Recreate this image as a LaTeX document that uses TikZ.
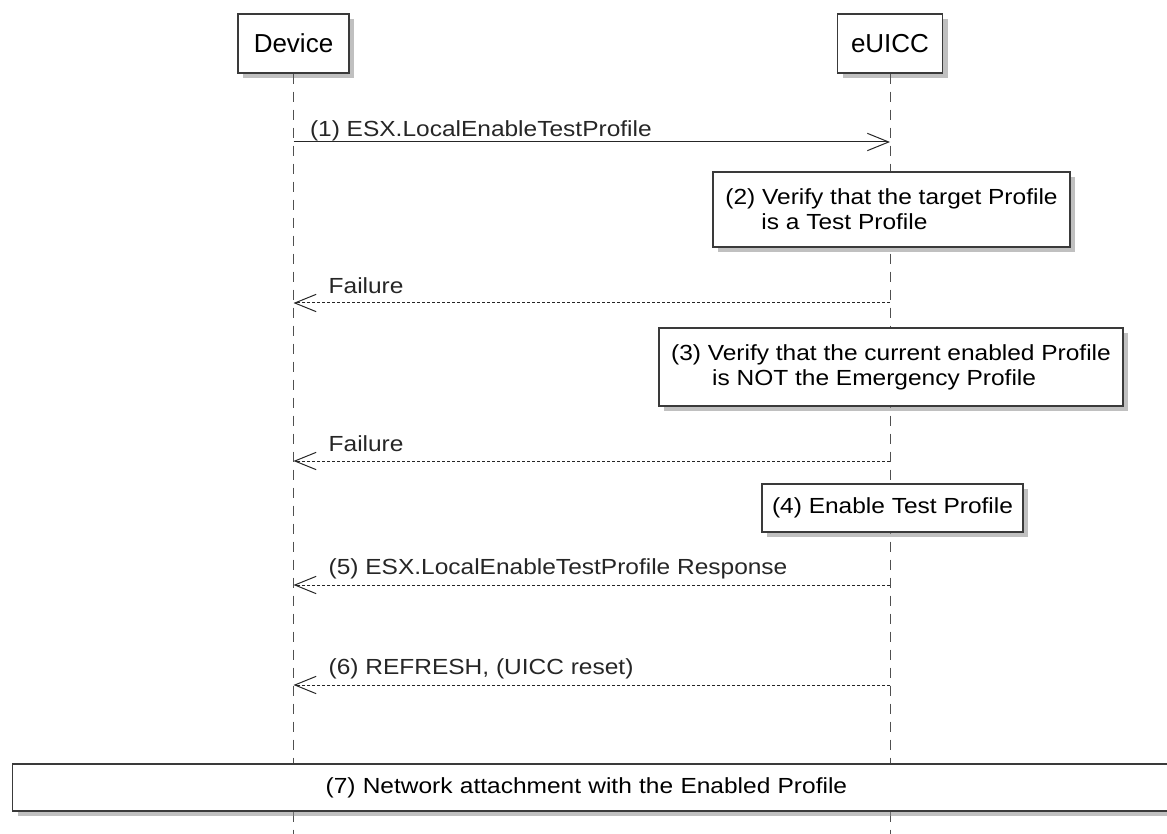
\documentclass[tikz,border=0pt]{standalone}
\usepackage{fontspec}
\setmainfont{Liberation Sans}
\newfontfamily\msgfont[FakeStretch=1.12]{Liberation Sans}
\usetikzlibrary{arrows.meta,shadows}
\definecolor{boxline}{HTML}{3A3A3A}
\definecolor{lifegray}{HTML}{505050}

\begin{document}
\begin{tikzpicture}[x=0.75pt, y=-0.75pt, >={Straight Barb[length=16pt,width=13pt]},
  every node/.style={font=\msgfont\fontsize{16.4pt}{18.75pt}\selectfont},
  shade/.style={drop shadow={shadow xshift=4pt, shadow yshift=-4pt, fill=black!45, opacity=.55}},
  actor/.style={draw=boxline, line width=1.1pt, fill=white, shade, minimum height=44.25pt, inner sep=0pt, font=\fontsize{19.5pt}{23pt}\selectfont},
  note/.style={draw=boxline, line width=0.9pt, fill=white, shade, inner sep=0pt, align=left},
  lifeline/.style={lifegray, line width=0.75pt, dash pattern=on 7.5pt off 6pt},
  call/.style={->, line width=0.75pt, black!85},
  reply/.style={->, line width=0.75pt, black!85, dash pattern=on 2.25pt off 1.5pt},
  lbl/.style={anchor=base west, inner sep=0pt}]
  \useasboundingbox (0,0) rectangle (1167,834);
  \clip (0,0) rectangle (1167,834);

  % 1. 参与者与生命线
  \node[actor, minimum width=83.25pt] (dev) at (293.5,43.5) {Device};
  \node[actor, minimum width=78.75pt] (euicc) at (890,43.5) {eUICC};
  \coordinate (devEnd) at (293.5,834);
  \coordinate (euiccEnd) at (890,834);
  \draw[lifeline] (dev.south) -- (devEnd);
  \draw[lifeline] (euicc.south) -- (euiccEnd);

  % 2. 消息端点
  \coordinate (d1) at (293.5,142); \coordinate (e1) at (890,142);
  \coordinate (d2) at (293.5,303); \coordinate (e2) at (890,303);
  \coordinate (d3) at (293.5,461); \coordinate (e3) at (890,461);
  \coordinate (d5) at (293.5,585); \coordinate (e5) at (890,585);
  \coordinate (d6) at (293.5,685); \coordinate (e6) at (890,685);

  % 3. 消息
  \draw[call] (d1) -- (e1) node[lbl, pos=0, xshift=12pt, yshift=3.75pt] {(1) ESX.LocalEnableTestProfile};
  \draw[reply] (e2) -- (d2) node[lbl, pos=1, xshift=26pt, yshift=7.5pt] {Failure};
  \draw[reply] (e3) -- (d3) node[lbl, pos=1, xshift=26pt, yshift=7.5pt] {Failure};
  \draw[reply] (e5) -- (d5) node[lbl, pos=1, xshift=26pt, yshift=8.25pt] {(5) ESX.LocalEnableTestProfile Response};
  \draw[reply] (e6) -- (d6) node[lbl, pos=1, xshift=26pt, yshift=8.25pt] {(6) REFRESH, (UICC reset)};

  % 4. 注释框 (白底盖住生命线)
  \node[note, minimum width=267.75pt, minimum height=56.25pt] (verifyTest) at (891.5,209.5)
    {(2) Verify that the target Profile\\\hspace*{27pt}is a Test Profile};
  \node[note, minimum width=348pt, minimum height=58.5pt] (verifyEmerg) at (891,367)
    {(3) Verify that the current enabled Profile\\\hspace*{30.75pt}is NOT the Emergency Profile};
  \node[note, minimum width=195.75pt, minimum height=36pt] (enableTest) at (892.5,508)
    {(4) Enable Test Profile};

  % 5. 跨越两条生命线的框
  \node[note, anchor=west, inner xsep=0pt, text width=883.5pt, minimum height=35.25pt] (attach) at (12,787.5)
    {\hspace*{234.75pt}(7) Network attachment with the Enabled Profile};
\end{tikzpicture}
\end{document}
